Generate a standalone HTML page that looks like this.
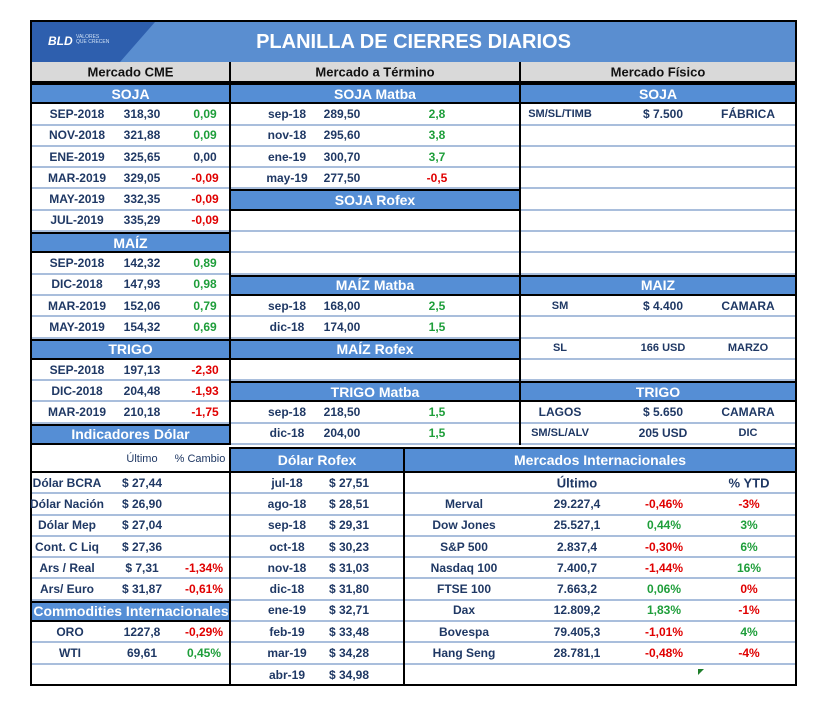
<!DOCTYPE html>
<html><head><meta charset="utf-8"><style>
*{box-sizing:border-box;margin:0;padding:0}
body{width:821px;height:705px;background:#fff;position:relative;font-family:"Liberation Sans",sans-serif;font-weight:bold;color:#1f3864;font-size:12px;overflow:hidden}
.col{position:absolute;display:flex;flex-direction:column;border-left:2px solid #000}
.row{position:relative;height:21.3px;border-bottom:2px solid #a9bedc;flex:none}
.h{background:#558ed5;color:#fff;font-size:14px;border-top:2px solid #000;border-bottom:2px solid #000}
.g{background:#d9d9d9;color:#111;font-size:13px;height:21px;border-bottom:2px solid #000}
.row span{position:absolute;top:50%;transform:translate(-50%,-50%);white-space:nowrap}
.c{left:50%}
.gr{color:#1e9e3a}.rd{color:#e00000}
.s{font-size:11px}
</style></head><body>
<div style="position:absolute;left:30px;top:20px;width:767px;height:666px;border:2px solid #000"></div>
<div style="position:absolute;left:32px;top:22px;width:763px;height:40px;background:#5a8ed0;overflow:hidden">
<div style="position:absolute;left:0;top:0;width:0;height:0;border-top:40px solid #2e5fae;border-right:35px solid transparent;margin-left:88px"></div>
<div style="position:absolute;left:0;top:0;width:88px;height:40px;background:#2e5fae"></div>
<div style="position:absolute;left:16px;top:12px;color:#fff;font-size:12px;font-style:italic">BLD</div>
<div style="position:absolute;left:44px;top:13px;color:#cfe0f5;font-size:5px;line-height:5px;font-weight:normal">VALORES<br>QUE CRECEN</div>
<div style="position:absolute;left:0;width:763px;top:9px;text-align:center;color:#fff;font-size:20px;padding-left:0">PLANILLA DE CIERRES DIARIOS</div>
</div>

<!-- top left -->
<div class="col" style="left:30px;top:62px;width:199px">
<div class="row g"><span class="c">Mercado CME</span></div>
<div class="row h"><span class="c">SOJA</span></div>
<div class="row"><span style="left:45px">SEP-2018</span><span style="left:110px">318,30</span><span class="gr" style="left:173px">0,09</span></div>
<div class="row"><span style="left:45px">NOV-2018</span><span style="left:110px">321,88</span><span class="gr" style="left:173px">0,09</span></div>
<div class="row"><span style="left:45px">ENE-2019</span><span style="left:110px">325,65</span><span style="left:173px">0,00</span></div>
<div class="row"><span style="left:45px">MAR-2019</span><span style="left:110px">329,05</span><span class="rd" style="left:173px">-0,09</span></div>
<div class="row"><span style="left:45px">MAY-2019</span><span style="left:110px">332,35</span><span class="rd" style="left:173px">-0,09</span></div>
<div class="row"><span style="left:45px">JUL-2019</span><span style="left:110px">335,29</span><span class="rd" style="left:173px">-0,09</span></div>
<div class="row h"><span class="c">MAÍZ</span></div>
<div class="row"><span style="left:45px">SEP-2018</span><span style="left:110px">142,32</span><span class="gr" style="left:173px">0,89</span></div>
<div class="row"><span style="left:45px">DIC-2018</span><span style="left:110px">147,93</span><span class="gr" style="left:173px">0,98</span></div>
<div class="row"><span style="left:45px">MAR-2019</span><span style="left:110px">152,06</span><span class="gr" style="left:173px">0,79</span></div>
<div class="row"><span style="left:45px">MAY-2019</span><span style="left:110px">154,32</span><span class="gr" style="left:173px">0,69</span></div>
<div class="row h"><span class="c">TRIGO</span></div>
<div class="row"><span style="left:45px">SEP-2018</span><span style="left:110px">197,13</span><span class="rd" style="left:173px">-2,30</span></div>
<div class="row"><span style="left:45px">DIC-2018</span><span style="left:110px">204,48</span><span class="rd" style="left:173px">-1,93</span></div>
<div class="row"><span style="left:45px">MAR-2019</span><span style="left:110px">210,18</span><span class="rd" style="left:173px">-1,75</span></div>
<div class="row h"><span class="c">Indicadores Dólar</span></div>
</div>

<!-- top middle -->
<div class="col" style="left:229px;top:62px;width:290px">
<div class="row g"><span class="c">Mercado a Término</span></div>
<div class="row h"><span class="c">SOJA Matba</span></div>
<div class="row"><span style="left:56px">sep-18</span><span style="left:111px">289,50</span><span class="gr" style="left:206px">2,8</span></div>
<div class="row"><span style="left:56px">nov-18</span><span style="left:111px">295,60</span><span class="gr" style="left:206px">3,8</span></div>
<div class="row"><span style="left:56px">ene-19</span><span style="left:111px">300,70</span><span class="gr" style="left:206px">3,7</span></div>
<div class="row"><span style="left:56px">may-19</span><span style="left:111px">277,50</span><span class="rd" style="left:206px">-0,5</span></div>
<div class="row h"><span class="c">SOJA Rofex</span></div>
<div class="row"></div><div class="row"></div><div class="row"></div>
<div class="row h"><span class="c">MAÍZ Matba</span></div>
<div class="row"><span style="left:56px">sep-18</span><span style="left:111px">168,00</span><span class="gr" style="left:206px">2,5</span></div>
<div class="row"><span style="left:56px">dic-18</span><span style="left:111px">174,00</span><span class="gr" style="left:206px">1,5</span></div>
<div class="row h"><span class="c">MAÍZ Rofex</span></div>
<div class="row"></div>
<div class="row h"><span class="c">TRIGO Matba</span></div>
<div class="row"><span style="left:56px">sep-18</span><span style="left:111px">218,50</span><span class="gr" style="left:206px">1,5</span></div>
<div class="row"><span style="left:56px">dic-18</span><span style="left:111px">204,00</span><span class="gr" style="left:206px">1,5</span></div>
</div>

<!-- top right -->
<div class="col" style="left:519px;top:62px;width:278px;border-right:2px solid #000">
<div class="row g"><span class="c">Mercado Físico</span></div>
<div class="row h"><span class="c">SOJA</span></div>
<div class="row"><span class="s" style="left:39px">SM/SL/TIMB</span><span style="left:142px">$ 7.500</span><span style="left:227px">FÁBRICA</span></div>
<div class="row"></div><div class="row"></div><div class="row"></div><div class="row"></div><div class="row"></div><div class="row"></div><div class="row"></div>
<div class="row h"><span class="c">MAIZ</span></div>
<div class="row"><span class="s" style="left:39px">SM</span><span style="left:142px">$ 4.400</span><span style="left:227px">CAMARA</span></div>
<div class="row"></div>
<div class="row"><span class="s" style="left:39px">SL</span><span class="s" style="left:142px">166 USD</span><span class="s" style="left:227px">MARZO</span></div>
<div class="row"></div>
<div class="row h"><span class="c">TRIGO</span></div>
<div class="row"><span style="left:39px">LAGOS</span><span style="left:142px">$ 5.650</span><span style="left:227px">CAMARA</span></div>
<div class="row"><span class="s" style="left:39px">SM/SL/ALV</span><span style="left:142px">205 USD</span><span class="s" style="left:227px">DIC</span></div>
</div>

<!-- bottom left -->
<div class="col" style="left:30px;top:447px;width:199px">
<div class="row" style="height:26px;border-bottom:2px solid #000;font-size:11px;font-weight:normal;color:#1f3864"><span style="left:110px">Último</span><span style="left:168px">% Cambio</span></div>
<div class="row"><span style="left:35px">Dólar BCRA</span><span style="left:110px">$ 27,44</span></div>
<div class="row"><span style="left:35px">Dólar Nación</span><span style="left:110px">$ 26,90</span></div>
<div class="row"><span style="left:35px">Dólar Mep</span><span style="left:110px">$ 27,04</span></div>
<div class="row"><span style="left:35px">Cont. C Liq</span><span style="left:110px">$ 27,36</span></div>
<div class="row"><span style="left:35px">Ars / Real</span><span style="left:110px">$ 7,31</span><span class="rd" style="left:172px">-1,34%</span></div>
<div class="row"><span style="left:35px">Ars/ Euro</span><span style="left:110px">$ 31,87</span><span class="rd" style="left:172px">-0,61%</span></div>
<div class="row h" style="overflow:hidden"><span style="left:99px">Commodities Internacionales</span></div>
<div class="row"><span style="left:38px">ORO</span><span style="left:110px">1227,8</span><span class="rd" style="left:172px">-0,29%</span></div>
<div class="row"><span style="left:38px">WTI</span><span style="left:110px">69,61</span><span class="gr" style="left:172px">0,45%</span></div>
<div class="row" style="border-bottom:none"></div>
</div>

<!-- bottom rofex -->
<div class="col" style="left:229px;top:447px;width:174px">
<div class="row h" style="height:26px"><span class="c">Dólar Rofex</span></div>
<div class="row"><span style="left:56px">jul-18</span><span style="left:118px">$ 27,51</span></div>
<div class="row"><span style="left:56px">ago-18</span><span style="left:118px">$ 28,51</span></div>
<div class="row"><span style="left:56px">sep-18</span><span style="left:118px">$ 29,31</span></div>
<div class="row"><span style="left:56px">oct-18</span><span style="left:118px">$ 30,23</span></div>
<div class="row"><span style="left:56px">nov-18</span><span style="left:118px">$ 31,03</span></div>
<div class="row"><span style="left:56px">dic-18</span><span style="left:118px">$ 31,80</span></div>
<div class="row"><span style="left:56px">ene-19</span><span style="left:118px">$ 32,71</span></div>
<div class="row"><span style="left:56px">feb-19</span><span style="left:118px">$ 33,48</span></div>
<div class="row"><span style="left:56px">mar-19</span><span style="left:118px">$ 34,28</span></div>
<div class="row" style="border-bottom:none"><span style="left:56px">abr-19</span><span style="left:118px">$ 34,98</span></div>
</div>

<!-- bottom internacionales -->
<div class="col" style="left:403px;top:447px;width:394px;border-right:2px solid #000">
<div class="row h" style="height:26px"><span class="c">Mercados Internacionales</span></div>
<div class="row" style="font-size:13px"><span style="left:172px">Último</span><span style="left:344px">% YTD</span></div>
<div class="row"><span style="left:59px">Merval</span><span style="left:172px">29.227,4</span><span class="rd" style="left:259px">-0,46%</span><span class="rd" style="left:344px">-3%</span></div>
<div class="row"><span style="left:59px">Dow Jones</span><span style="left:172px">25.527,1</span><span class="gr" style="left:259px">0,44%</span><span class="gr" style="left:344px">3%</span></div>
<div class="row"><span style="left:59px">S&amp;P 500</span><span style="left:172px">2.837,4</span><span class="rd" style="left:259px">-0,30%</span><span class="gr" style="left:344px">6%</span></div>
<div class="row"><span style="left:59px">Nasdaq 100</span><span style="left:172px">7.400,7</span><span class="rd" style="left:259px">-1,44%</span><span class="gr" style="left:344px">16%</span></div>
<div class="row"><span style="left:59px">FTSE 100</span><span style="left:172px">7.663,2</span><span class="gr" style="left:259px">0,06%</span><span class="rd" style="left:344px">0%</span></div>
<div class="row"><span style="left:59px">Dax</span><span style="left:172px">12.809,2</span><span class="gr" style="left:259px">1,83%</span><span class="rd" style="left:344px">-1%</span></div>
<div class="row"><span style="left:59px">Bovespa</span><span style="left:172px">79.405,3</span><span class="rd" style="left:259px">-1,01%</span><span class="gr" style="left:344px">4%</span></div>
<div class="row"><span style="left:59px">Hang Seng</span><span style="left:172px">28.781,1</span><span class="rd" style="left:259px">-0,48%</span><span class="rd" style="left:344px">-4%</span></div>
<div class="row" style="border-bottom:none"><span style="left:293px;top:4px;transform:none;width:0;height:0;border-top:6px solid #1e7e2a;border-right:6px solid transparent"></span></div>
</div>
</body></html>
